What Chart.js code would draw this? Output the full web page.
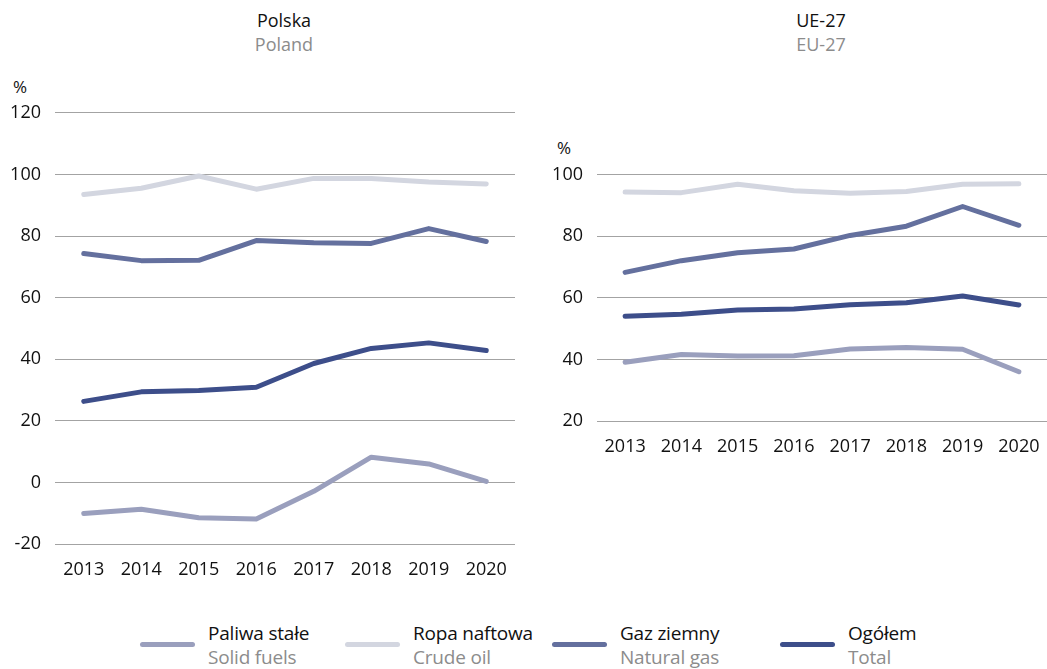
<!DOCTYPE html>
<html>
<head>
<meta charset="utf-8">
<script src="https://cdn.jsdelivr.net/npm/chart.js@4"></script>
<style>
  body { margin: 0; background: #fff; font-family: "Open Sans", sans-serif; }
  #page { position: relative; width: 1047px; height: 669px; overflow: hidden; }
  .box { position: absolute; }
  .title { position: absolute; text-align: center; font-size: 18px; line-height: 24px; color: #111; }
  .title span { color: #8c8c8c; display: block; }
  .unit { position: absolute; font-size: 17px; color: #111; }
  .leg { position: absolute; top: 621px; font-size: 19px; line-height: 24px; color: #111; letter-spacing: -0.2px; }
  .leg i { position: absolute; left: -68px; top: 21px; width: 55px; height: 5px; border-radius: 3px; }
  .leg span { color: #8c8c8c; display: block; }
</style>
</head>
<body>
<div id="page">
  <div class="title" style="left:184px;top:8px;width:200px">Polska<span>Poland</span></div>
  <div class="title" style="left:721px;top:8px;width:200px">UE-27<span>EU-27</span></div>
  <div class="unit" style="left:13px;top:75px">%</div>
  <div class="unit" style="left:557px;top:136px">%</div>
  <div class="box" style="left:0;top:88px;width:515px;height:492px"><canvas class="chart-pl"></canvas></div>
  <div class="box" style="left:540px;top:150px;width:507px;height:307px"><canvas class="chart-eu"></canvas></div>

  <div class="leg" style="left:208px"><i style="background:#9a9fbd"></i>Paliwa stałe<span>Solid fuels</span></div>
  <div class="leg" style="left:413px"><i style="background:#d3d6e0"></i>Ropa naftowa<span>Crude oil</span></div>
  <div class="leg" style="left:620px"><i style="background:#64709e"></i>Gaz ziemny<span>Natural gas</span></div>
  <div class="leg" style="left:848px"><i style="background:#3d4e8a"></i>Ogółem<span>Total</span></div>
</div>
<script>
const years = ["2013", "2014", "2015", "2016", "2017", "2018", "2019", "2020"];

// Polska
const plSolid = [-10.1, -8.7, -11.5, -11.9, -2.9, 8.2, 6.0, 0.3];
const plOil = [93.5, 95.5, 99.5, 95.2, 98.7, 98.7, 97.5, 96.9];
const plGas = [74.3, 72.0, 72.1, 78.5, 77.8, 77.6, 82.4, 78.2];
const plTotal = [26.3, 29.4, 29.8, 30.9, 38.6, 43.5, 45.3, 42.8];

// UE-27
const euSolid = [39.1, 41.6, 41.1, 41.2, 43.4, 43.9, 43.3, 36.0];
const euOil = [94.4, 94.2, 96.9, 94.8, 94.0, 94.6, 96.9, 97.1];
const euGas = [68.3, 72.1, 74.7, 75.9, 80.3, 83.3, 89.7, 83.6];
const euTotal = [54.0, 54.7, 56.1, 56.4, 57.8, 58.4, 60.6, 57.7];

const colors = ["#9a9fbd", "#d3d6e0", "#64709e", "#3d4e8a"];
const tickFont = { family: "Open Sans", size: 18 };

function makeChart(el, series, min, max, yWidth, yPad) {
  return new Chart(document.querySelector(el), {
    type: "line",
    data: {
      labels: years,
      datasets: series.map((d, i) => ({
        data: d,
        borderColor: colors[i],
        borderWidth: 5,
        pointRadius: 0,
        tension: 0,
        borderJoinStyle: "round",
        borderCapStyle: "round",
      })),
    },
    options: {
      responsive: true,
      maintainAspectRatio: false,
      animation: false,
      plugins: { legend: { display: false }, tooltip: { enabled: false } },
      scales: {
        x: {
          offset: true,
          grid: { display: false },
          border: { display: false },
          ticks: { color: "#111", font: tickFont, padding: 7, maxRotation: 0 },
          afterFit: (s) => { s.height = 36; },
        },
        y: {
          min: min,
          max: max,
          grid: { color: "#a3a3a3", lineWidth: 1, drawTicks: false },
          border: { display: false },
          ticks: { stepSize: 20, color: "#111", font: tickFont, padding: yPad },
          afterFit: (s) => { s.width = yWidth; },
        },
      },
    },
  });
}

makeChart(".chart-pl", [plSolid, plOil, plGas, plTotal], -20, 120, 55, 14);
makeChart(".chart-eu", [euSolid, euOil, euGas, euTotal], 20, 100, 57, 14);
</script>
</body>
</html>
